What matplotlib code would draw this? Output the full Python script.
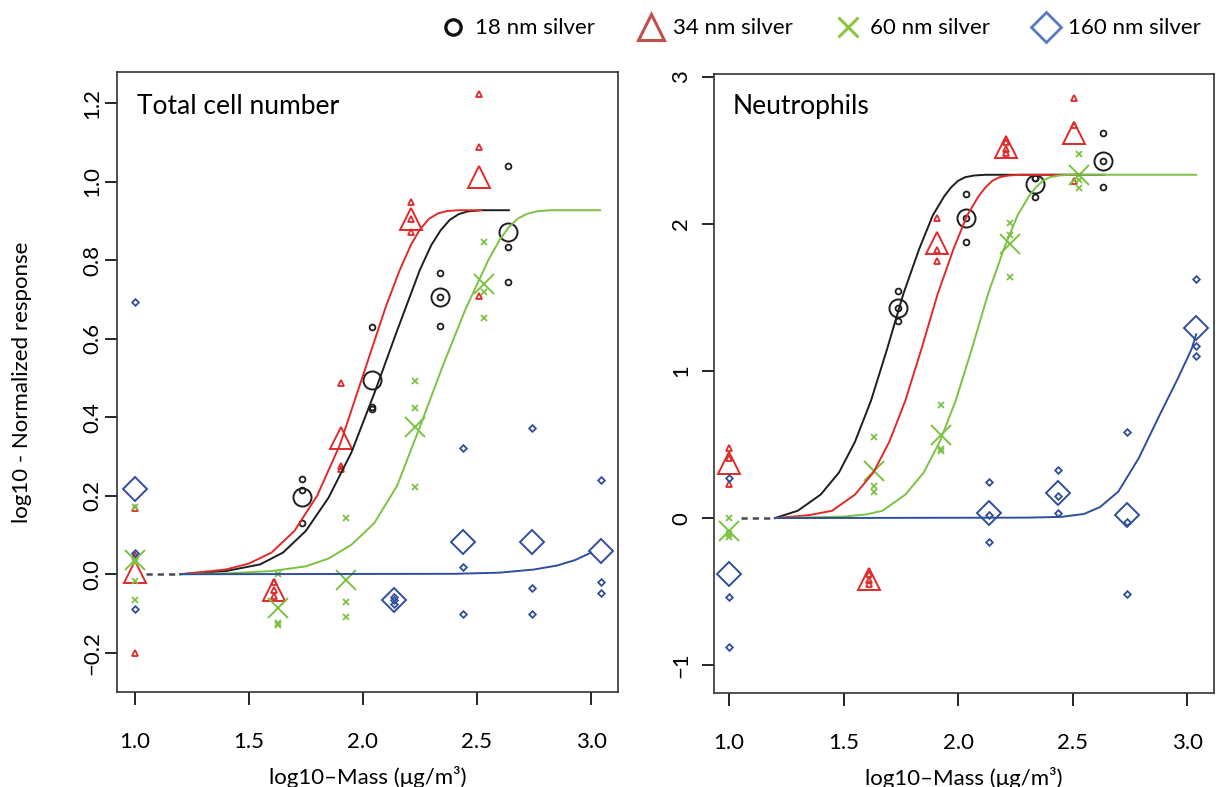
import matplotlib
matplotlib.use("Agg")
from matplotlib import pyplot as plt
from matplotlib.lines import Line2D

plt.rcParams['font.family'] = ['Lato', 'DejaVu Sans']

###
# Total cell number (left) and neutrophils (right) vs log10 mass
###

# ---- total cell number ----
tc_18_x = [1.735, 2.04, 2.34, 2.638]
tc_18_mean = [0.196, 0.494, 0.706, 0.872]
tc_18_reps = [[0.242, 0.215, 0.13], [0.63, 0.426, 0.42], [0.767, 0.706, 0.633], [1.04, 0.834, 0.745]]

tc_34_x = [1.0, 1.61, 1.905, 2.211, 2.51]
tc_34_mean = [0.005, -0.041, 0.346, 0.904, 1.012]
tc_34_reps = [[0.168, 0.05, -0.2], [-0.02, -0.041, -0.055], [0.486, 0.275, 0.268], [0.949, 0.904, 0.872], [1.222, 1.087, 0.709]]

tc_60_x = [1.0, 1.63, 1.926, 2.23, 2.53]
tc_60_mean = [0.036, -0.087, -0.015, 0.375, 0.739]
tc_60_reps = [[0.171, 0.03, -0.017, -0.065], [0.0, -0.124, -0.13], [0.142, -0.072, -0.109], [0.492, 0.424, 0.221], [0.847, 0.72, 0.653]]

tc_160_x = [1.0, 2.135, 2.438, 2.74, 3.042]
tc_160_mean = [0.218, -0.066, 0.081, 0.081, 0.059]
tc_160_reps = [[0.694, 0.055, -0.089], [-0.058, -0.066, -0.075], [0.322, 0.019, -0.102], [0.373, -0.034, -0.102], [0.24, -0.019, -0.047]]

# fitted curves
tc_fit_18_x = [1.2, 1.4, 1.55, 1.65, 1.75, 1.85, 1.95, 2.05, 2.15, 2.25, 2.30, 2.34, 2.38, 2.42, 2.46, 2.52, 2.64]
tc_fit_18_y = [0.0, 0.008, 0.025, 0.055, 0.11, 0.195, 0.31, 0.46, 0.62, 0.775, 0.838, 0.875, 0.902, 0.917, 0.924, 0.927, 0.927]
tc_fit_34_x = [1.2, 1.4, 1.5, 1.6, 1.7, 1.8, 1.9, 2.0, 2.1, 2.16, 2.21, 2.25, 2.29, 2.33, 2.37, 2.42, 2.52]
tc_fit_34_y = [0.0, 0.012, 0.027, 0.055, 0.11, 0.2, 0.33, 0.505, 0.68, 0.772, 0.838, 0.878, 0.905, 0.919, 0.925, 0.927, 0.927]
tc_fit_60_x = [1.2, 1.4, 1.6, 1.75, 1.85, 1.95, 2.05, 2.15, 2.25, 2.35, 2.45, 2.55, 2.60, 2.64, 2.68, 2.72, 2.76, 2.82, 3.04]
tc_fit_60_y = [0.0, 0.002, 0.008, 0.02, 0.04, 0.075, 0.13, 0.225, 0.375, 0.53, 0.675, 0.80, 0.852, 0.884, 0.906, 0.918, 0.924, 0.927, 0.927]
tc_fit_160_x = [1.2, 2.4, 2.6, 2.75, 2.85, 2.93, 3.0]
tc_fit_160_y = [0.0, 0.001, 0.004, 0.012, 0.022, 0.036, 0.055]

# ---- neutrophils ----
ne_18_x = [1.738, 2.036, 2.338, 2.635]
ne_18_mean = [1.432, 2.039, 2.27, 2.43]
ne_18_reps = [[1.546, 1.43, 1.337], [2.204, 2.04, 1.88], [2.31, 2.314, 2.186], [2.616, 2.43, 2.254]]

ne_34_x = [1.0, 1.61, 1.908, 2.21, 2.508]
ne_34_mean = [0.376, -0.412, 1.869, 2.525, 2.616]
ne_34_reps = [[0.477, 0.41, 0.229], [-0.38, -0.42, -0.45], [2.039, 1.824, 1.749], [2.56, 2.51, 2.48], [2.854, 2.673, 2.293]]

ne_60_x = [1.0, 1.633, 1.927, 2.228, 2.53]
ne_60_mean = [-0.088, 0.319, 0.568, 1.862, 2.333]
ne_60_reps = [[0.002, -0.11, -0.13], [0.55, 0.217, 0.177], [0.772, 0.47, 0.455], [2.005, 1.926, 1.638], [2.476, 2.299, 2.247]]

ne_160_x = [1.0, 2.137, 2.438, 2.737, 3.04]
ne_160_mean = [-0.378, 0.032, 0.168, 0.018, 1.29]
ne_160_reps = [[0.274, -0.536, -0.88], [0.244, 0.02, -0.161], [0.33, 0.149, 0.032], [0.586, -0.027, -0.518], [1.627, 1.168, 1.10]]

ne_fit_18_x = [1.2, 1.3, 1.4, 1.48, 1.55, 1.62, 1.69, 1.76, 1.83, 1.89, 1.94, 1.97, 2.0, 2.03, 2.07, 2.12, 2.64]
ne_fit_18_y = [0.0, 0.05, 0.16, 0.31, 0.52, 0.8, 1.15, 1.52, 1.83, 2.06, 2.19, 2.25, 2.294, 2.318, 2.33, 2.335, 2.335]
ne_fit_34_x = [1.2, 1.35, 1.45, 1.55, 1.63, 1.70, 1.77, 1.84, 1.91, 1.98, 2.04, 2.09, 2.12, 2.15, 2.18, 2.22, 2.27, 2.52]
ne_fit_34_y = [0.0, 0.02, 0.05, 0.16, 0.31, 0.52, 0.8, 1.15, 1.52, 1.83, 2.06, 2.19, 2.25, 2.294, 2.318, 2.33, 2.335, 2.335]
ne_fit_60_x = [1.2, 1.5, 1.6, 1.67, 1.77, 1.85, 1.92, 1.99, 2.06, 2.13, 2.20, 2.26, 2.31, 2.34, 2.37, 2.40, 2.44, 2.49, 3.04]
ne_fit_60_y = [0.0, 0.01, 0.025, 0.05, 0.16, 0.31, 0.52, 0.8, 1.15, 1.52, 1.83, 2.06, 2.19, 2.25, 2.294, 2.318, 2.33, 2.335, 2.335]
ne_fit_160_x = [1.2, 2.3, 2.45, 2.55, 2.62, 2.70, 2.79, 2.88, 2.96, 3.02, 3.04]
ne_fit_160_y = [0.0, 0.003, 0.008, 0.028, 0.075, 0.18, 0.41, 0.7, 0.95, 1.15, 1.25]

# dashed link from control to first fitted dose
ctrl_x = [1.05, 1.2]
ctrl_y = [0.0, 0.0]

labels = ["18 nm silver", "34 nm silver", "60 nm silver", "160 nm silver"]
col_black = "#1e1e1e"
col_red = "#e02a2a"
col_green = "#7cc242"
col_blue = "#2f4e9e"
markers = ["o", "^", "x", "D"]
big_size = [13, 16, 14, 12]
small_size = [4.2, 5, 4.5, 3.4]

fig = plt.figure(figsize=(12.16, 7.87), dpi=100)
ax1 = fig.add_axes([0.0966, 0.1207, 0.4116, 0.7878])
ax2 = fig.add_axes([0.5868, 0.1194, 0.4116, 0.7865])


def draw_panel(ax, series, fits):
    cols = [col_black, col_red, col_green, col_blue]
    for i, (xs, means, reps) in enumerate(series):
        for x, r in zip(xs, reps):
            ax.plot([x] * len(r), r, linestyle="none", marker=markers[i], ms=small_size[i],
                    mfc="none", mec=cols[i], mew=1.3)
        ax.plot(xs, means, linestyle="none", marker=markers[i], ms=big_size[i],
                mfc="none", mec=cols[i], mew=1.4)
    ax.plot(ctrl_x, ctrl_y, linestyle=(0, (2.5, 2)), color="#4a4a5a", lw=1.8)
    for i, (fx, fy) in enumerate(fits):
        ax.plot(fx, fy, color=cols[i], lw=1.4, solid_joinstyle="round")
    for s in ax.spines.values():
        s.set_linewidth(1.2)
        s.set_color("#333333")
    ax.set_xticks([1.0, 1.5, 2.0, 2.5, 3.0])
    ax.set_xticklabels(["1.0", "1.5", "2.0", "2.5", "3.0"])
    ax.tick_params(axis="x", length=9, width=1.2, pad=20, labelsize=16)
    ax.tick_params(axis="y", length=9, width=1.2, labelsize=16)
    ax.set_xlabel("log10\u2013Mass (\u03bcg/m\u00b3)", fontsize=16, labelpad=10)


draw_panel(ax1,
           [(tc_18_x, tc_18_mean, tc_18_reps), (tc_34_x, tc_34_mean, tc_34_reps),
            (tc_60_x, tc_60_mean, tc_60_reps), (tc_160_x, tc_160_mean, tc_160_reps)],
           [(tc_fit_18_x, tc_fit_18_y), (tc_fit_34_x, tc_fit_34_y),
            (tc_fit_60_x, tc_fit_60_y), (tc_fit_160_x, tc_fit_160_y)])
ax1.set_xlim(0.925, 3.118)
ax1.set_ylim(-0.30, 1.279)
ax1.set_yticks([-0.2, 0.0, 0.2, 0.4, 0.6, 0.8, 1.0, 1.2])
ax1.set_yticklabels(["\u22120.2", "0.0", "0.2", "0.4", "0.6", "0.8", "1.0", "1.2"], rotation=90, va="center")
ax1.tick_params(axis="y", pad=2)
ax1.set_ylabel("log10 - Normalized response", fontsize=16, labelpad=36)
ax1.text(0.039, 0.944, "Total cell number", transform=ax1.transAxes, fontsize=19, va="center", ha="left")

draw_panel(ax2,
           [(ne_18_x, ne_18_mean, ne_18_reps), (ne_34_x, ne_34_mean, ne_34_reps),
            (ne_60_x, ne_60_mean, ne_60_reps), (ne_160_x, ne_160_mean, ne_160_reps)],
           [(ne_fit_18_x, ne_fit_18_y), (ne_fit_34_x, ne_fit_34_y),
            (ne_fit_60_x, ne_fit_60_y), (ne_fit_160_x, ne_fit_160_y)])
ax2.set_xlim(0.932, 3.118)
ax2.set_ylim(-1.19, 3.02)
ax2.set_yticks([-1, 0, 1, 2, 3])
ax2.set_yticklabels(["\u22121", "0", "1", "2", "3"], rotation=90, va="center")
ax2.tick_params(axis="y", pad=7)
ax2.text(0.039, 0.948, "Neutrophils", transform=ax2.transAxes, fontsize=19, va="center", ha="left")

handles = [
    Line2D([], [], linestyle="none", marker="o", ms=11, mfc="none", mec="#111111", mew=2.4),
    Line2D([], [], linestyle="none", marker="^", ms=19, mfc="none", mec="#c0504d", mew=2.2),
    Line2D([], [], linestyle="none", marker="x", ms=14, mfc="none", mec="#8cc63f", mew=2.2),
    Line2D([], [], linestyle="none", marker="D", ms=15, mfc="none", mec="#5b78c6", mew=2.0),
]
fig.legend(handles, labels, ncol=4, loc="center right", bbox_to_anchor=(0.995, 0.964),
           frameon=False, fontsize=16, handlelength=1.0, handletextpad=0.5,
           columnspacing=2.0, borderaxespad=0)

plt.savefig("out.png", dpi=100)
